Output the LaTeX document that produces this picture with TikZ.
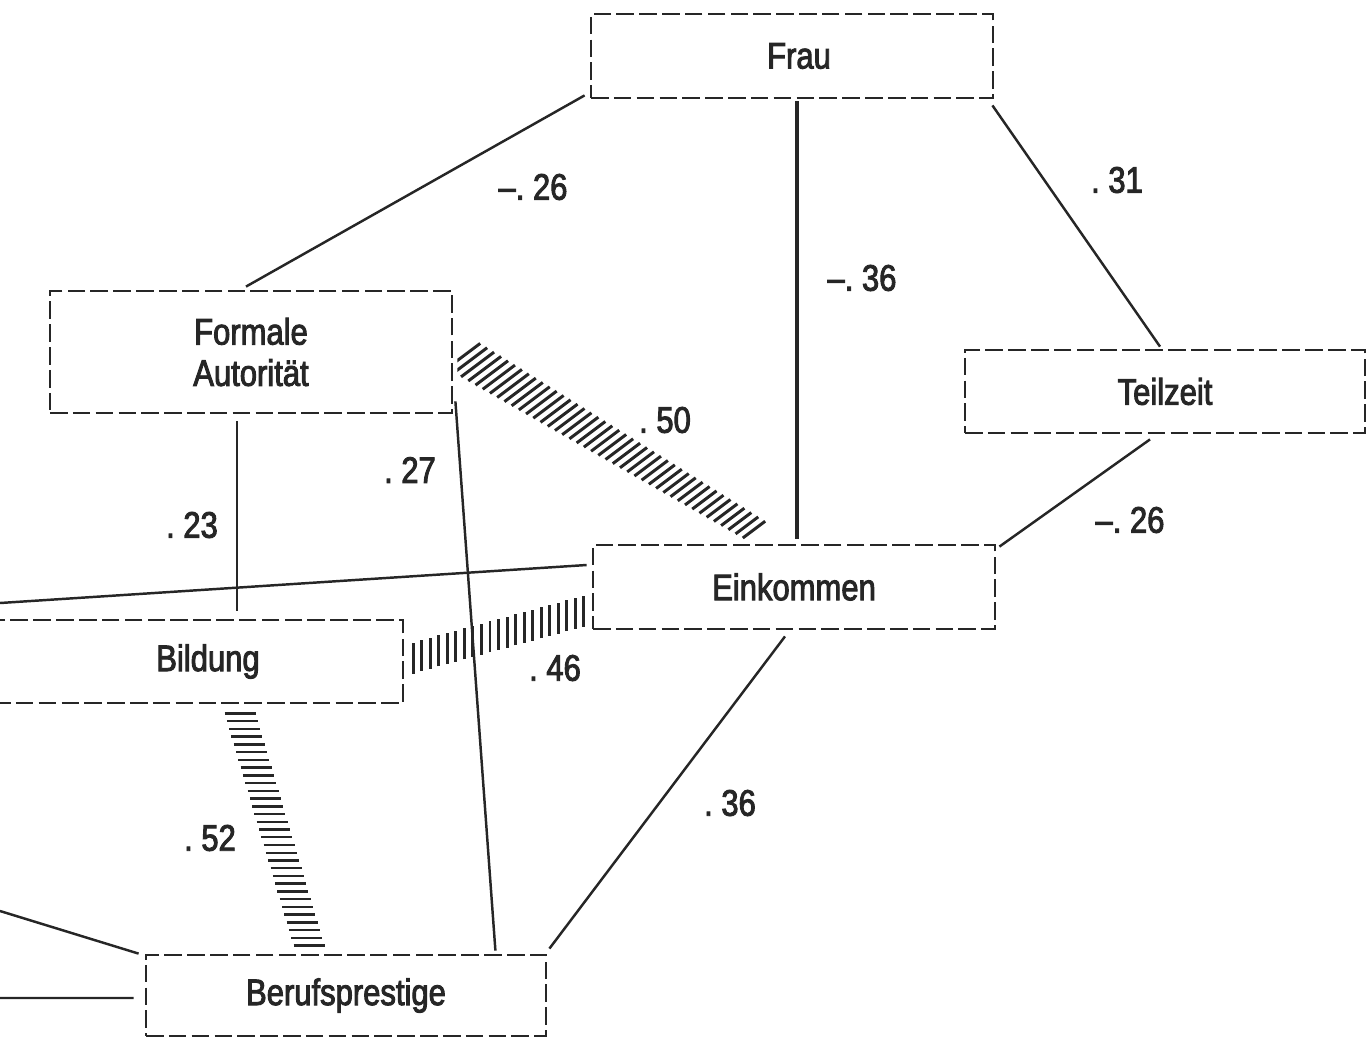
\documentclass[tikz,border=0pt]{standalone}
\usepackage{fontspec}
\setmainfont{Liberation Sans}[FakeStretch=0.84,FakeBold=2.5]
\usetikzlibrary{calc}
\newcommand{\pxu}{0.02cm}
\tikzset{
  box/.style={draw=black!85,line width=1.6pt,dash pattern=on 10pt off 3pt,
    minimum width=402*\pxu,minimum height=84*\pxu,inner sep=0pt,align=center},
  link/.style={draw=black!85,line width=1.4pt},
  hatch/.style={draw=black!85,line width=1.7pt},
  num/.style={inner sep=0pt},
}
\begin{document}
\begin{tikzpicture}[x=\pxu,y=-\pxu,font=\fontsize{21}{23.5}\selectfont,text=black!85]
\useasboundingbox (0,0) rectangle (1368,1038);
\clip (0,0) rectangle (1368,1038);
\node[box] (frau) at (792,56) {\hspace*{0.28cm}Frau};
\node[box,minimum height=122*\pxu] (formale) at (251,352) {Formale\\Autorität};
\node[box,minimum width=400*\pxu,minimum height=83*\pxu] (teil) at (1165,391.5) {Teilzeit};
\node[box] (eink) at (794,587) {Einkommen};
\node[box,minimum width=410*\pxu,minimum height=83*\pxu] (bild) at (198,661.5) {\hspace*{0.4cm}Bildung};
\node[box,minimum width=400*\pxu,minimum height=81*\pxu] (beruf) at (346,995.5) {Berufsprestige};
\coordinate (lt1) at (0,603);
\coordinate (lt2) at (0,911);
\coordinate (lt3) at (0,998);

\draw[link] ($(frau.south west)+(-5,-4)$) -- ($(formale.north)+(-5,-3)$);
\draw[link,line width=2.2pt] ($(frau.south)+(5,2)$) -- ($(eink.north)+(3,-5)$);
\draw[link] ($(frau.south east)+(-2,6)$) -- ($(teil.north)+(-5,-2)$);
\draw[link] ($(teil.south)+(-15,5)$) -- ($(eink.north east)+(3,3)$);
\draw[link] ($(formale.south)+(-14,7)$) -- ($(bild.north)+(39,-8)$);
\draw[link] ($(formale.south east)+(2,-13)$) -- ($(beruf.north east)+(-52,-3)$);
\draw[link] ($(eink.south)+(-9,6)$) -- ($(beruf.north east)+(2,-5)$);
\draw[link] (lt1) -- ($(eink.west)+(-5,-22)$);
\draw[link] (lt2) -- ($(beruf.north west)+(-6,0)$);
\draw[link] (lt3) -- ($(beruf.west)+(-11,2.5)$);

\coordinate (ha) at ($(formale.east)+(10,4)$);
\coordinate (hb) at ($(eink.north)+(-40,-14)$);
\begin{scope}
\clip ($(formale.east)+(4,-80)$) rectangle ($(eink.north)+(40,-4)$);
\foreach \i in {0,...,41}{
  \pgfmathsetmacro\t{\i/41}
  \pgfmathsetmacro\L{42-14*\t}
  \draw[hatch] ($(ha)!\t!(hb)+(-0.4*\L,0.3*\L)$) -- ++(0.8*\L,-0.6*\L);
}
\end{scope}
\coordinate (hc) at ($(bild.east)+(9,-3.5)$);
\coordinate (hd) at ($(eink.west)+(-8,24)$);
\foreach \i in {0,...,20}{
  \pgfmathsetmacro\t{\i/20}
  \draw[hatch] ($(hc)!\t!(hd)+(0,15.5)$) -- ++(0,-31);
}
\coordinate (he) at ($(bild.south)+(42,9)$);
\coordinate (hf) at ($(beruf.north)+(-37,-8)$);
\foreach \i in {0,...,30}{
  \pgfmathsetmacro\t{\i/30}
  \draw[hatch,line width=1.4pt] ($(he)!\t!(hf)+(-15.5,0)$) -- ++(31,0);
}

\node[num] (wff) at (533,187) {--.\ 26};
\node[num] (wft) at (1117,180) {.\ 31};
\node[num] (wfe) at (862,278) {--.\ 36};
\node[num] (wfa) at (665,420) {.\ 50};
\node[num] (wfb) at (410,470) {.\ 27};
\node[num] (wab) at (192,525) {.\ 23};
\node[num] (wte) at (1130,520) {--.\ 26};
\node[num] (wbe) at (555,668) {.\ 46};
\node[num] (web) at (730,803) {.\ 36};
\node[num] (wbb) at (210,838) {.\ 52};
\end{tikzpicture}
\end{document}
